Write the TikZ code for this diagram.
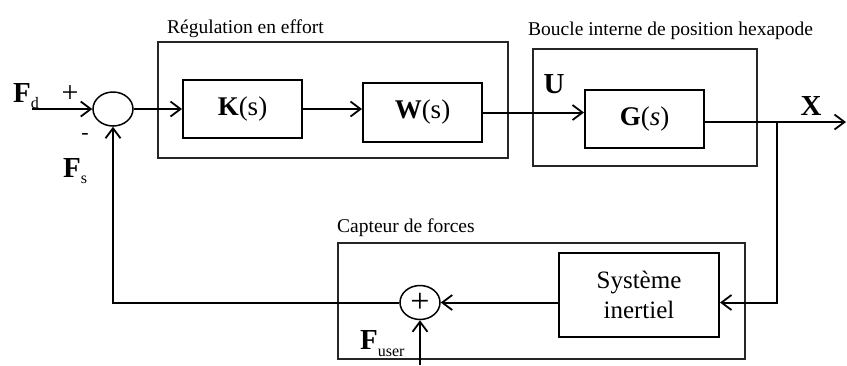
\documentclass[tikz,border=0pt]{standalone}
\usepackage{fontspec}
\setmainfont{Liberation Serif}
\usetikzlibrary{arrows.meta,shapes.geometric}
\begin{document}
\begin{tikzpicture}[x=1pt,y=-1pt,
 blk/.style={draw, line width=2pt, inner sep=0pt, font=\fontsize{27}{30}\selectfont},
 grp/.style={draw, line width=1.6pt, draw=black!85, inner sep=0pt},
 sumnode/.style={draw, ellipse, line width=1.5pt, inner sep=0pt, minimum width=40pt, minimum height=34pt},
 wire/.style={line width=2pt},
 arr/.style={wire, -{Straight Barb[length=10pt,width=15pt,line width=1.8pt]}},
 lbl/.style={font=\fontsize{19.5}{22}\selectfont, inner sep=0pt},
 sym/.style={font=\fontsize{29}{30}\selectfont\bfseries, inner sep=0pt},
 sgn/.style={font=\fontsize{30}{30}\selectfont, inner sep=0pt},
]
\useasboundingbox (0,0) rectangle (847,365);
% group boxes
\node[grp, minimum width=350pt, minimum height=116pt] (reg) at (333,100) {};
\node[grp, minimum width=224pt, minimum height=117pt] (hex) at (645,107.5) {};
\node[grp, minimum width=407pt, minimum height=116pt] (cap) at (541.5,301) {};
\node[lbl, anchor=base west] (reglbl) at (167,33) {Régulation en effort};
\node[lbl, anchor=base west] (hexlbl) at (528,35) {Boucle interne de position hexapode};
\node[lbl, anchor=base west] (caplbl) at (337,232) {Capteur de forces};
% blocks
\node[blk, minimum width=119pt, minimum height=58pt] (K) at (242.5,109) {\textbf{K}(s)};
\node[blk, minimum width=119pt, minimum height=59pt] (W) at (422.5,112.5) {\textbf{W}(s)};
\node[blk, minimum width=119pt, minimum height=58pt] (G) at (644.5,119) {\textbf{G}(\textit{s})};
\node[blk, minimum width=160pt, minimum height=84pt, align=center, font=\fontsize{25}{30}\selectfont] (Sys) at (639,295) {Système\\inertiel};
% summing junctions
\node[sumnode] (sum1) at (113,109) {};
\node[sumnode, font=\fontsize{34}{34}\selectfont] (sum2) at (420,302.5) {+};
% labels
\node[sym, anchor=base west] (Fd) at (13,102) {F\fontsize{16}{16}\selectfont\mdseries\raisebox{-6pt}{d}};
\node[sym, anchor=base west] (Fs) at (63,177) {F\fontsize{16}{16}\selectfont\mdseries\raisebox{-6pt}{s}};
\node[sym, anchor=base west] (Fu) at (360,349) {F\fontsize{16}{16}\selectfont\mdseries\raisebox{-7pt}{user}};
\node[sgn] (plus) at (70,94) {+};
\node[sgn, font=\fontsize{22}{22}\selectfont] (minus) at (85,136) {-};
\node[sym] (U) at (554,84) {U};
\node[sym] (X) at (811,106) {X};
% coordinates
\coordinate (fdin) at (32,109);
\coordinate (xout) at (846,122);
\coordinate (br) at (777,122);
\coordinate (fuin) at (420,365);
% connectors
\draw[arr] (fdin) -- (sum1.west);
\draw[arr] (sum1.east) -- (K.west);
\draw[arr] (K.east) -- (K.east -| W.west);
\draw[arr] (W.east) -- (W.east -| G.west);
\draw[arr] (G.east |- xout) -- (xout);
\draw[arr] (br) |- (Sys.east |- sum2);
\draw[arr] (Sys.west |- sum2) -- (sum2.east);
\draw[arr] (sum2.west) -| (sum1.south);
\draw[arr] (fuin) -- (sum2.south);
\end{tikzpicture}
\end{document}
